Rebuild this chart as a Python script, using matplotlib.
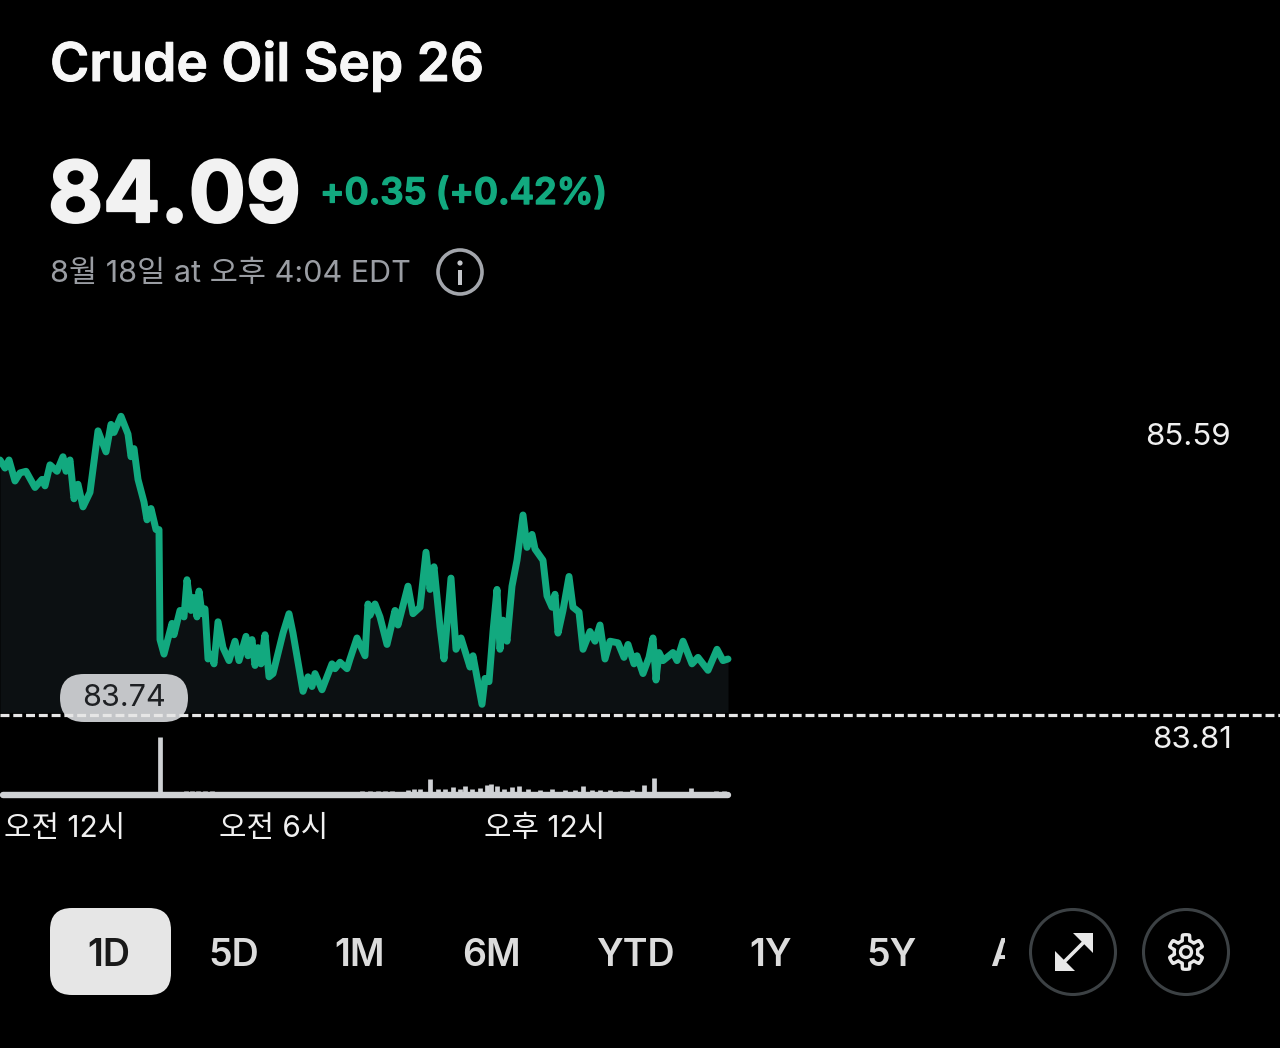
import numpy as np
import matplotlib
matplotlib.use('Agg')
from matplotlib import pyplot as plt
from matplotlib import patheffects as pe
from matplotlib.patches import Circle, FancyBboxPatch, Rectangle, Polygon

plt.rcParams['font.family'] = ['Inter', 'Noto Sans CJK KR', 'DejaVu Sans']

# price line, x is horizontal chart position
bar_pos = [0, 5, 9, 15, 20, 26, 35, 42, 45, 50, 57, 63, 66, 70, 74, 78, 83, 90, 98, 106, 111, 114,
           121, 128, 131, 134, 138, 144, 147, 151, 156, 159, 160, 164, 172, 174, 180, 184, 187, 191,
           194, 197, 199, 202, 205, 208, 211, 214, 218, 223, 229, 235, 239, 246, 248, 252, 255, 258,
           261, 265, 269, 273, 283, 289, 293, 303, 308, 312, 315, 322, 332, 335, 340, 347, 350, 357,
           365, 368,
           370, 375, 380, 387, 395, 398, 408, 413, 420, 426, 430, 434, 440, 444, 451, 456, 461, 470,
           473, 482, 485, 489, 493, 497, 500, 503, 507, 512, 517, 523, 527, 532, 535, 543, 547, 552,
           555, 558, 563, 569, 573, 579, 583, 590, 595, 600, 605, 610, 618, 624, 628, 634, 637, 643,
           649, 653, 656, 659, 663, 673, 677, 683, 692, 698, 708, 717, 723, 728]
price = [85.32, 85.27, 85.32, 85.19, 85.24, 85.25, 85.15, 85.20, 85.16, 85.29, 85.25, 85.34, 85.25,
         85.32, 85.08, 85.17, 85.03, 85.12, 85.50, 85.37, 85.54, 85.49, 85.59, 85.48, 85.34, 85.39,
         85.20, 85.06, 84.95, 85.02, 84.89, 84.89, 84.21, 84.12, 84.31, 84.24, 84.39, 84.35, 84.58,
         84.39, 84.47, 84.35, 84.51, 84.37, 84.40, 84.09, 84.12, 84.06, 84.32, 84.16, 84.08, 84.20,
         84.08, 84.23, 84.11, 84.21, 84.05, 84.16, 84.06, 84.24, 83.98, 84.00, 84.25, 84.37, 84.25,
         83.89, 83.98, 83.92, 84.00, 83.90, 84.06, 84.03, 84.07, 84.03, 84.09, 84.22, 84.11, 84.43,
         84.36, 84.43, 84.35, 84.18, 84.39, 84.30, 84.54, 84.37, 84.41, 84.75, 84.52, 84.66, 84.29,
         84.09, 84.59, 84.15, 84.22, 84.04, 84.11, 83.81, 83.97, 83.95, 84.26, 84.52, 84.15, 84.33,
         84.20, 84.54, 84.70, 84.98, 84.78, 84.86, 84.77, 84.70, 84.48, 84.41, 84.49, 84.25, 84.39,
         84.60, 84.41, 84.38, 84.15, 84.26, 84.20, 84.30, 84.09, 84.20, 84.19, 84.10, 84.18, 84.06,
         84.11, 84.00, 84.10, 84.22, 83.96, 84.13, 84.08, 84.13, 84.08, 84.20, 84.06, 84.10, 84.02,
         84.15, 84.08, 84.09]
prev_close = 83.74

# volume, same x positions as the chart
vol_pos = [145, 160, 170, 178, 186, 192, 198, 205, 212, 220, 245, 290, 300, 312, 325, 362, 370, 378, 385,
           392, 400, 408, 414, 420, 430, 438, 445, 453, 460, 465, 472, 480, 487, 491, 497, 504, 512, 519,
           528, 540, 552, 565, 575, 583, 592, 600, 610, 620, 632, 644, 654, 662, 672, 691, 705, 716, 724]
volume = [2, 58, 2, 3, 4, 4, 4, 4, 4, 3, 3, 3, 3, 3, 3, 4, 4, 4, 4,
          4, 3, 5, 6, 6, 16, 6, 6, 8, 6, 9, 6, 7, 10, 11, 9, 6, 8, 9,
          6, 5, 6, 5, 5, 9, 5, 5, 5, 4, 5, 10, 17, 3, 3, 7, 3, 4, 4]

y_ticks = [85.59, 83.81]
x_labels = ['오전 12시', '오전 6시', '오후 12시']
x_label_pos = [65, 274, 545]
ranges = ['1D', '5D', '1M', '6M', 'YTD', '1Y', '5Y']
range_pos = [109, 234, 360, 491, 635, 771, 892]

BG = '#000000'
GREEN = '#12a97f'
W, H = 1280, 1048


def heavy(color, width):
    return [pe.withStroke(linewidth=width, foreground=color)]


fig = plt.figure(figsize=(W / 100, H / 100), dpi=100, facecolor=BG)

# price axes, scaled so 84.09 lands at y=659 and 0.00618 per pixel
ax = fig.add_axes([0, 0, 1, 1], facecolor=BG)
ax.set_xlim(0, W)
ax.set_ylim(84.09 - (H - 659) * 0.00618, 84.09 + 659 * 0.00618)
ax.axis('off')
ax.fill_between(bar_pos, price, prev_close + 0.02, color='#0c1012', lw=0, zorder=1)
ax.plot(bar_pos, price, color=GREEN, lw=5, solid_joinstyle='round', solid_capstyle='round', zorder=3)

# volume axes, baseline at y=795
ax_vol = fig.add_axes([0, (H - 805) / H, 1, 80 / H], facecolor='none')
ax_vol.set_xlim(0, W)
ax_vol.set_ylim(-10, 70)
ax_vol.axis('off')
ax_vol.vlines(vol_pos, 0, volume, color='#cfd1d4', lw=3.4)
ax_vol.plot([3, 728], [0, 0], color='#cfd1d4', lw=4.6, solid_capstyle='round')

# everything else in pixel coordinates
ov = fig.add_axes([0, 0, 1, 1], facecolor='none')
ov.set_xlim(0, W)
ov.set_ylim(H, 0)
ov.axis('off')

ov.text(50, 81, 'Crude Oil Sep 26', color='#f7f7f7', fontsize=38.4, fontweight='semibold', va='baseline',
        path_effects=heavy('#f7f7f7', 0.7))
ov.text(48, 222, '84.09', color='#f2f2f2', fontsize=61, fontweight='bold', va='baseline',
        path_effects=heavy('#f2f2f2', 1.6))
ov.text(320, 204, '+0.35 (+0.42%)', color=GREEN, fontsize=26.3, fontweight='semibold', va='baseline',
        path_effects=heavy(GREEN, 1.0))
ov.text(50, 282, '8월 18일 at 오후 4:04 EDT', color='#9a9da3', fontsize=22, va='baseline')

# info icon
ov.add_patch(Circle((460, 272), 22, fc='none', ec='#a3a6ac', lw=2.6))
ov.add_patch(Rectangle((458, 270), 4, 15, fc='#c4c6ca', ec='none'))
ov.add_patch(Circle((460, 263), 2.6, fc='#c4c6ca', ec='none'))

# price labels
ov.text(1231, 445, f'{y_ticks[0]:.2f}', color='#f0f0f0', fontsize=22.5, ha='right', va='baseline')
ov.text(1232, 748, f'{y_ticks[1]:.2f}', color='#f0f0f0', fontsize=22.5, ha='right', va='baseline')

# previous close pill and dashed line
pill = FancyBboxPatch((60, 674), 128, 48, boxstyle='round,pad=0,rounding_size=24', fc='#c3c5c8', ec='none', zorder=2)
ov.add_patch(pill)
ov.text(124, 706, f'{prev_close:.2f}', color='#1e2023', fontsize=22, ha='center', va='baseline', zorder=3)
ov.plot([0, W], [715, 715], color='#e6e6e6', lw=2.3, dashes=(2.8, 1.2), zorder=4)

for lab, xp in zip(x_labels, x_label_pos):
    ov.text(xp, 837, lab, color='#f0f0f0', fontsize=21.5, ha='center', va='baseline')

# range tabs
ov.add_patch(FancyBboxPatch((50, 908), 121, 87, boxstyle='round,pad=0,rounding_size=22', fc='#e6e6e6', ec='none'))
for lab, xp in zip(ranges, range_pos):
    col = '#1a1a1a' if lab == '1D' else '#dcdcdc'
    ov.text(xp, 966, lab, color=col, fontsize=27, fontweight='semibold', ha='center', va='baseline')
clipped = ov.text(990, 966, 'ALL', color='#dcdcdc', fontsize=27, fontweight='semibold', va='baseline',
                  clip_on=True)
clipped.set_clip_path(Rectangle((992, 930), 13, 50, transform=ov.transData))

# expand button
ov.add_patch(Circle((1073, 952), 42.5, fc='none', ec='#3c4144', lw=2.2))
ov.plot([1062, 1086], [964, 940], color='#e8e8e8', lw=2.6)
ov.add_patch(Polygon([(1093, 933), (1093, 953), (1073, 933)], fc='#e8e8e8', ec='none'))
ov.add_patch(Polygon([(1055, 971), (1055, 951), (1075, 971)], fc='#e8e8e8', ec='none'))

# settings button
ov.add_patch(Circle((1186, 952), 42.5, fc='none', ec='#3c4144', lw=2.2))
ang = np.linspace(0, 2 * np.pi, 361)
rad = 14.5 + 2.8 * np.clip(3 * np.cos(6 * (ang + np.pi / 6)), -1, 1)
ov.add_patch(Polygon(np.column_stack([1186 + rad * np.cos(ang), 952 + rad * np.sin(ang)]),
                     fc='none', ec='#e8e8e8', lw=2.4, joinstyle='round'))
ov.add_patch(Circle((1186, 952), 5.5, fc='none', ec='#e8e8e8', lw=2.4))

fig.savefig('out.png', dpi=100, facecolor=BG)
